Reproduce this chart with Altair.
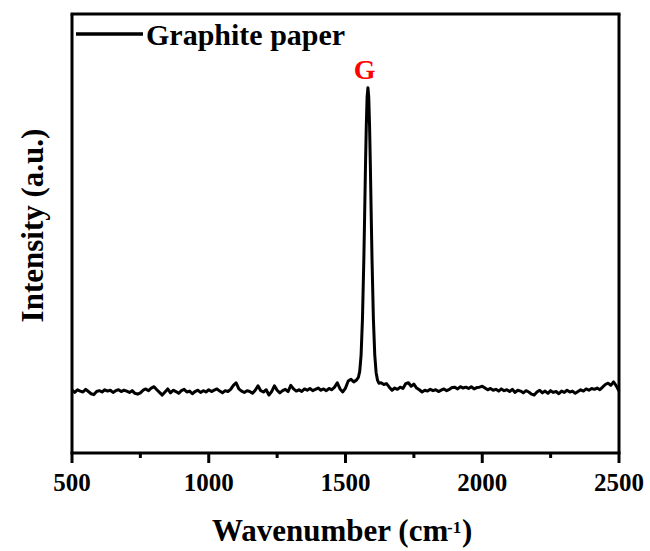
import altair as alt
import pandas as pd

# Raman spectrum of graphite paper
wavenumber = [
    500, 510, 520, 530, 540, 550, 560, 570, 580, 590, 600, 610, 620, 630, 640, 650, 660, 670, 680, 690,
    700, 710, 720, 730, 740, 750, 760, 770, 780, 790, 800, 810, 820, 830, 840, 850, 860, 870, 880, 890,
    900, 910, 920, 930, 940, 950, 960, 970, 980, 990, 1000, 1010, 1020, 1030, 1040, 1050, 1060, 1070, 1080, 1090,
    1100, 1110, 1120, 1130, 1140, 1150, 1160, 1170, 1180, 1190, 1200, 1210, 1220, 1230, 1240, 1250, 1260, 1270, 1280, 1290,
    1300, 1310, 1320, 1330, 1340, 1350, 1360, 1370, 1380, 1390, 1400, 1410, 1420, 1430, 1440, 1450, 1460, 1470, 1480, 1490,
    1500, 1510, 1520, 1530, 1540,
    1547, 1552, 1557, 1562, 1567, 1570, 1573, 1576, 1579, 1582, 1585, 1588, 1591, 1594, 1597, 1602, 1607, 1612, 1617, 1622,
    1630, 1640, 1650, 1660, 1670, 1680, 1690, 1700, 1710, 1720, 1730, 1740, 1750, 1760, 1770, 1780, 1790,
    1800, 1810, 1820, 1830, 1840, 1850, 1860, 1870, 1880, 1890, 1900, 1910, 1920, 1930, 1940, 1950, 1960, 1970, 1980, 1990,
    2000, 2010, 2020, 2030, 2040, 2050, 2060, 2070, 2080, 2090, 2100, 2110, 2120, 2130, 2140, 2150, 2160, 2170, 2180, 2190,
    2200, 2210, 2220, 2230, 2240, 2250, 2260, 2270, 2280, 2290, 2300, 2310, 2320, 2330, 2340, 2350, 2360, 2370, 2380, 2390,
    2400, 2410, 2420, 2430, 2440, 2450, 2460, 2470, 2480, 2490, 2500,
]
intensity = [
    14.3, 13.8, 14.4, 14.1, 13.9, 14.5, 14.0, 13.5, 13.3, 14.0, 14.2, 13.9, 14.4, 14.1, 14.3, 13.8, 14.2, 14.4, 14.0, 14.3,
    14.1, 13.8, 14.2, 13.6, 13.4, 13.7, 14.3, 14.6, 14.2, 14.8, 15.1, 14.4, 13.8, 13.2, 13.9, 14.6, 13.7, 14.3, 14.0, 13.6,
    14.2, 14.5, 13.9, 14.1, 13.5, 14.0, 14.3, 13.8, 14.2, 13.9, 14.4, 14.0, 14.3, 14.6, 14.1, 13.7, 14.2, 14.0, 14.5, 15.4,
    16.0, 14.6, 14.1, 13.8, 14.2, 14.0, 13.6, 14.3, 15.3, 14.2, 13.9, 14.4, 13.2, 14.0, 15.3, 14.3, 13.7, 14.2, 14.5, 14.0,
    15.4, 14.6, 14.1, 14.4, 14.0, 14.6, 14.3, 14.7, 14.2, 14.5, 14.8, 14.3, 14.6, 14.2, 14.7, 14.4, 15.0, 16.0, 14.6, 13.9,
    14.8, 16.4, 16.8, 16.2, 16.6,
    17.2, 18.6, 22.3, 30.5, 44.0, 54.2, 65.1, 74.5, 81.1, 83.2, 81.1, 74.5, 65.1, 54.2, 44.0, 30.5, 22.3, 18.3, 16.6, 15.9,
    16.0, 15.6, 15.8, 15.0, 14.3, 14.8, 14.5, 15.0, 14.7, 15.8, 16.0, 15.2, 15.7, 14.8, 14.4, 13.9, 14.3,
    14.1, 14.5, 14.2, 14.4, 14.0, 14.3, 14.6, 14.2, 14.5, 14.9, 15.0, 14.6, 15.1, 14.8, 15.0, 14.7, 15.1, 14.6, 14.9, 15.0,
    15.2, 14.8, 14.4, 14.7, 14.3, 14.5, 14.1, 14.6, 14.2, 14.4, 14.0, 14.5, 13.8, 14.3, 14.1, 13.7, 14.2, 13.9, 13.4, 13.2,
    13.9, 14.3, 13.7, 14.1, 13.6, 14.2, 13.8, 14.0, 13.5, 14.1, 13.8, 14.3, 13.9, 14.1, 13.6, 14.0, 14.4, 14.1, 14.6, 14.3,
    14.7, 14.5, 14.8, 14.4, 15.0, 15.6, 15.9, 15.4, 16.2, 15.3, 14.1,
]
major_ticks = [500, 1000, 1500, 2000, 2500]
major_labels = ["500", "1000", "1500", "2000", "2500"]
minor_ticks = [750, 1250, 1750, 2250]
peak_label = ["G"]
peak_label_pos = [1570]
series_name = "Graphite paper"
x_title_main = "Wavenumber (cm"
x_title_sup = "-1"
x_title_end = ")"
y_title = "Intensity (a.u.)"

FONT = "Liberation Serif"

df = pd.DataFrame({"wn": wavenumber, "intensity": intensity})
major_df = pd.DataFrame({"wn": major_ticks, "label": major_labels})
minor_df = pd.DataFrame({"wn": minor_ticks})
label_df = pd.DataFrame({"wn": peak_label_pos, "label": peak_label})
one = pd.DataFrame({"name": [series_name]})

# Plot area extended 10 px below the frame so the outward ticks sit inside it
xscale = alt.Scale(domain=[500, 2500], nice=False, zero=False)
yscale = alt.Scale(domain=[-2.278, 100], nice=False, zero=False)

X = alt.X("wn:Q", scale=xscale, axis=None)

line = alt.Chart(df).mark_line(color="black", strokeWidth=3, strokeJoin="round").encode(
    x=X,
    y=alt.Y("intensity:Q", scale=yscale,
            axis=alt.Axis(labels=False, ticks=False, domain=False, grid=False, title=y_title,
                          titleFont=FONT, titleFontWeight="bold", titleFontSize=31, titleColor="black",
                          titleAngle=270, titleX=-30, titleY=211, titleBaseline="alphabetic",
                          titleAlign="center")),
)

# frame (left, right, top, bottom)
frame_left = alt.Chart(one).mark_rule(color="black", strokeWidth=3).encode(
    x=alt.value(0), y=alt.value(0), y2=alt.value(439))
frame_right = alt.Chart(one).mark_rule(color="black", strokeWidth=3).encode(
    x=alt.value(547), y=alt.value(0), y2=alt.value(439))
frame_top = alt.Chart(one).mark_rule(color="black", strokeWidth=3).encode(
    x=alt.value(-1.5), x2=alt.value(548.5), y=alt.value(0))
frame_bottom = alt.Chart(one).mark_rule(color="black", strokeWidth=3).encode(
    x=alt.value(-1.5), x2=alt.value(548.5), y=alt.value(439))

major = alt.Chart(major_df).mark_rule(color="black", strokeWidth=3).encode(
    x=X, y=alt.value(439), y2=alt.value(449),
)
minor = alt.Chart(minor_df).mark_rule(color="black", strokeWidth=3).encode(
    x=X, y=alt.value(439), y2=alt.value(444),
)

tick_labels = alt.Chart(major_df).mark_text(
    font=FONT, fontWeight="bold", fontSize=25, color="black", align="center", baseline="alphabetic"
).encode(x=X, y=alt.value(477), text="label:N")

glabel = alt.Chart(label_df).mark_text(
    font=FONT, fontWeight="bold", fontSize=28, color="red", baseline="alphabetic", align="center"
).encode(x=X, y=alt.value(65), text="label:N")

title_df = pd.DataFrame({"a": [x_title_main], "b": [x_title_sup], "c": [x_title_end]})
xt_main = alt.Chart(title_df).mark_text(
    font=FONT, fontWeight="bold", fontSize=31, color="black", align="left", baseline="alphabetic"
).encode(x=alt.value(140), y=alt.value(527), text="a:N")
xt_sup = alt.Chart(title_df).mark_text(
    font=FONT, fontWeight="bold", fontSize=17, color="black", align="left", baseline="alphabetic"
).encode(x=alt.value(375), y=alt.value(519), text="b:N")
xt_end = alt.Chart(title_df).mark_text(
    font=FONT, fontWeight="bold", fontSize=31, color="black", align="left", baseline="alphabetic"
).encode(x=alt.value(390), y=alt.value(527), text="c:N")

legend_line = alt.Chart(one).mark_rule(color="black", strokeWidth=3.5).encode(
    x=alt.value(4), x2=alt.value(71), y=alt.value(20))

legend_text = alt.Chart(one).mark_text(
    font=FONT, fontWeight="bold", fontSize=30, color="black", align="left", baseline="alphabetic"
).encode(x=alt.value(74), y=alt.value(31), text="name:N")

chart = alt.layer(
    line, frame_left, frame_right, frame_top, frame_bottom, major, minor,
    tick_labels, glabel, xt_main, xt_sup, xt_end, legend_line, legend_text
).properties(
    width=547, height=449,
    autosize=alt.AutoSizeParams(type="none"),
    padding={"left": 72, "top": 14, "right": 31, "bottom": 88},
    background="white",
).configure_view(
    strokeWidth=0
)

chart.save("out.html", embed_options={"renderer": "svg", "actions": False})
